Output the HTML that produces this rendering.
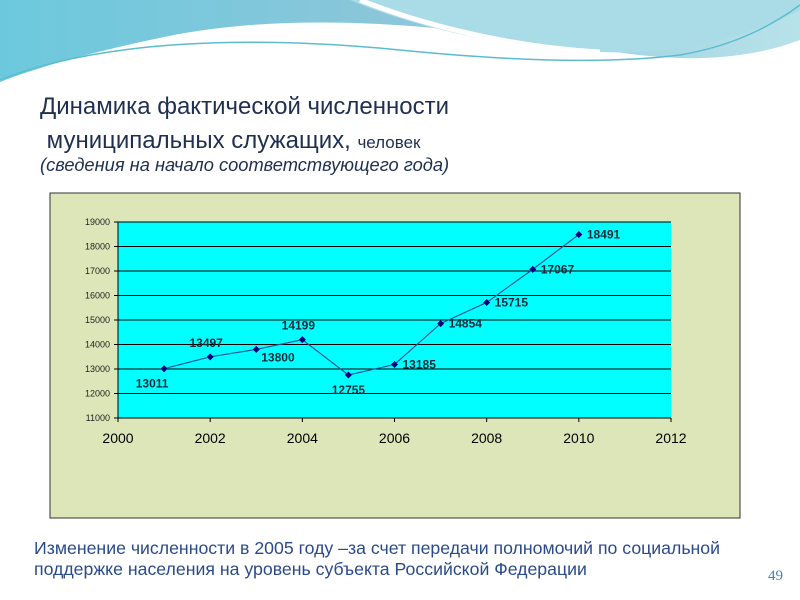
<!DOCTYPE html>
<html><head><meta charset="utf-8"><style>
body{margin:0;width:800px;height:600px;overflow:hidden;background:#fff;font-family:"Liberation Sans",sans-serif;position:relative}
.t{position:absolute;color:#1f2f4f;white-space:nowrap}
</style></head><body>
<svg style="position:absolute;left:0;top:0" width="800" height="90">
<defs><linearGradient id="g1" x1="0" y1="0" x2="1" y2="0"><stop offset="0" stop-color="#6cc9dd"/><stop offset="0.5" stop-color="#8cc6da"/><stop offset="1" stop-color="#b8e2ea"/></linearGradient></defs>
<path d="M0 0H800V40C720 70 640 55 600 50C480 30 300 5 150 40C80 55 30 70 0 82Z" fill="url(#g1)"/>
<path d="M350 0C420 30 520 50 600 52C680 55 740 40 800 10V0Z" fill="#a9dce6"/>
<path d="M360 0C430 28 520 48 600 52" stroke="#fff" stroke-width="5" fill="none"/>
<path d="M0 80C100 40 250 35 400 50C500 60 600 65 680 55C740 45 780 20 800 5" stroke="#5bbcd0" stroke-width="1.5" fill="none"/>
</svg>
<div class="t" style="left:40px;top:90px;font-size:24px;line-height:34px">Динамика фактической численности<br>&nbsp;муниципальных служащих, <span style="font-size:17px">человек</span></div>
<div class="t" style="left:40px;top:154px;font-size:18.3px;font-style:italic">(сведения на начало соответствующего года)</div>
<svg id="c" style="position:absolute;left:0;top:0" width="800" height="600"></svg>
<div class="t" style="left:34px;top:538px;font-size:17.7px;line-height:21px;color:#2a4a8a">Изменение численности в 2005 году –за счет передачи полномочий по социальной<br>поддержке населения на уровень субъекта Российской Федерации</div>
<div class="t" style="left:768px;top:568px;font-size:15px;color:#4a7fb0;font-family:'Liberation Serif',serif">49</div>
<script>
const years=[2001,2002,2003,2004,2005,2006,2007,2008,2009,2010];
const values=[13011,13497,13800,14199,12755,13185,14854,15715,17067,18491];
const yTicks=[11000,12000,13000,14000,15000,16000,17000,18000,19000];
const xTicks=[2000,2002,2004,2006,2008,2010,2012];
const labelBelow=[true,false,true,false,true,false,false,false,false,false];
const svg=document.getElementById('c');const NS='http://www.w3.org/2000/svg';
const L=118,R=671,T=222,B=418;
const x=v=>L+(v-2000)/12*(R-L);
const y=v=>B-(v-11000)/8000*(B-T);
function mk(t,a,p){const e=document.createElementNS(NS,t);for(const k in a)e.setAttribute(k,a[k]);(p||svg).appendChild(e);return e;}
let e=mk('rect',{x:50,y:193,width:690,height:325,fill:'#dde6b8',stroke:'#333','stroke-width':1});

e=mk('rect',{x:L,y:T,width:R-L,height:B-T,fill:'#00ffff'});

yTicks.forEach(v=>{const g=mk('line',{x1:L-4,x2:R,y1:y(v),y2:y(v),stroke:'#000','stroke-width':1});

const t=mk('text',{x:L-8,y:y(v)+3,'text-anchor':'end','font-size':9,fill:'#222'});t.textContent=v;
});
mk('line',{x1:L,x2:L,y1:T,y2:B,stroke:'#000'});
xTicks.forEach(v=>{mk('line',{x1:x(v),x2:x(v),y1:B,y2:B+4,stroke:'#000'});
const t=mk('text',{x:x(v),y:B+25,'text-anchor':'middle','font-size':14,fill:'#000'});t.textContent=v;
});
e=mk('polyline',{points:years.map((yr,i)=>x(yr)+','+y(values[i])).join(' '),fill:'none',stroke:'#1a5a9a','stroke-width':1.2});

years.forEach((yr,i)=>{const px=x(yr),py=y(values[i]);
const m=mk('path',{d:`M${px} ${py-3.5}L${px+3.5} ${py}L${px} ${py+3.5}L${px-3.5} ${py}Z`,fill:'#000080'});

let lx,ly,anc='start';
if(i<4&&!labelBelow[i]){lx=px-4;ly=py-10;anc='middle';}
else if(i==0){lx=px-12;ly=py+19;anc='middle';}
else if(i==4){lx=px;ly=py+19;anc='middle';}
else{lx=px+8;ly=py+4;}
if(i==2){lx=px+5;ly=py+12;}
const t=mk('text',{x:lx,y:ly,'text-anchor':anc,'font-size':12,'font-weight':'bold',fill:'#1a2a3a'});t.textContent=values[i];
});
</script>
</body></html>
